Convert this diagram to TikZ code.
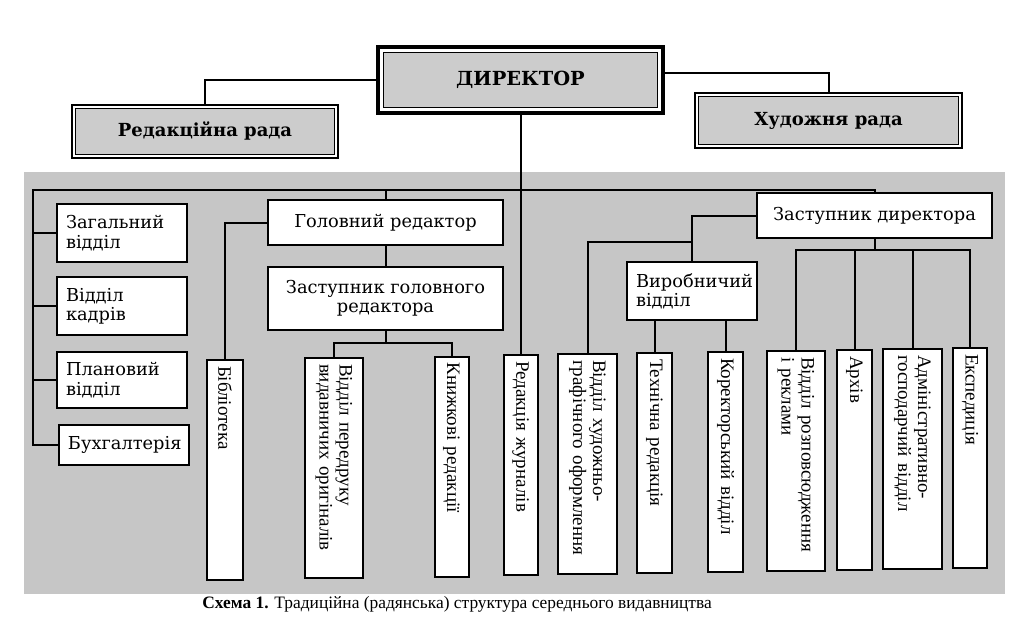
\documentclass[tikz,border=0pt]{standalone}
\usepackage{fontspec}
\setmainfont{DejaVu Serif}
\newfontfamily\vfont{Liberation Serif}

\begin{document}
\begin{tikzpicture}[x=0.5pt,y=-0.5pt,line width=1pt]
\tikzstyle{hblock}=[draw, fill=white, line width=1pt, align=center, font=\fontsize{8.9}{9.6}\selectfont]
\tikzstyle{lblock}=[hblock, align=left, text width=56pt, inner xsep=4.5pt, minimum width=65pt]
\tikzstyle{vblock}=[draw, fill=white, line width=1pt, rotate=-90, align=left, text width=104pt, inner xsep=3pt, font=\vfont\fontsize{9.5}{10}\selectfont]
\tikzstyle{council}=[draw, line width=.6pt, fill=white, font=\bfseries\fontsize{9}{10}\selectfont, path picture={\draw[line width=.5pt, fill=gray!40] ([shift={(1.8pt,-1.8pt)}]path picture bounding box.north west) rectangle ([shift={(-1.8pt,1.8pt)}]path picture bounding box.south east);}]
\tikzstyle{chief}=[draw, line width=1.6pt, fill=white, font=\bfseries\fontsize{9.7}{11}\selectfont, path picture={\draw[line width=.5pt, fill=gray!40] ([shift={(2.6pt,-2.6pt)}]path picture bounding box.north west) rectangle ([shift={(-2.6pt,2.6pt)}]path picture bounding box.south east);}]
\useasboundingbox (0,0) rectangle (1023,642);
\fill[gray!45] (24,172) rectangle (1005,594);
\draw (520.5,80) node (dir) [chief, minimum width=142.5pt, minimum height=33pt] {ДИРЕКТОР};
\draw (205,131.5) node (red) [council, minimum width=133pt, minimum height=26.5pt] {Редакційна рада};
\draw (828.5,120.5) node (hud) [council, minimum width=133.5pt, minimum height=27.5pt] {Художня рада};
\draw (122,233) node (zag) [lblock, minimum height=29pt] {Загальний\\відділ};
\draw (122,306) node (kadr) [lblock, minimum height=29pt] {Відділ\\кадрів};
\draw (122,380) node (plan) [lblock, minimum height=28pt] {Плановий\\відділ};
\draw (124,445) node (buh) [lblock, minimum height=20pt] {Бухгалтерія};
\draw (385.5,222.5) node (gr) [hblock, minimum width=117.5pt, minimum height=22.5pt] {Головний редактор};
\draw (385.5,298.5) node (zgr) [hblock, minimum width=117.5pt, minimum height=31.5pt] {Заступник головного\\редактора};
\draw (692,291) node (vyr) [lblock, minimum height=29pt] {Виробничий\\відділ};
\draw (874.5,215.5) node (dz) [hblock, minimum width=117.5pt, minimum height=22.5pt] {Заступник директора};
\draw (225,470) node (bib) [vblock, minimum height=18pt] {Бібліотека};
\draw (334,468) node (perd) [vblock, minimum height=29pt] {Відділ передруку\\видавничих оригіналів};
\draw (451.5,466.5) node (knyzh) [vblock, minimum height=17pt] {Книжкові редакції};
\draw (520.5,465) node (zhur) [vblock, minimum height=17pt] {Редакція журналів};
\draw (587.5,464) node (khud) [vblock, minimum height=29.5pt] {Відділ художньо-\\графічного оформлення};
\draw (654.5,463) node (tekh) [vblock, minimum height=17.5pt] {Технічна редакція};
\draw (725.5,462) node (kor) [vblock, minimum height=17.5pt] {Коректорський відділ};
\draw (796,461) node (rozp) [vblock, minimum height=29pt] {Відділ розповсюдження\\і реклами};
\draw (854.5,460) node (arkh) [vblock, minimum height=17.5pt] {Архів};
\draw (912.5,459) node (adm) [vblock, minimum height=29.5pt] {Адміністративно-\\господарчий відділ};
\draw (970,458) node (eksp) [vblock, minimum height=17pt] {Експедиція};
\draw (457,604) node (cap) [font=\vfont\fontsize{8.7}{11}\selectfont] {\textbf{Схема 1.} Традиційна (радянська) структура середнього видавництва};
\coordinate (busL) at (33,190);
\coordinate (j1) at (385.5,343);
\coordinate (j2) at (692,242);
\coordinate (j3) at (874.5,250);
\draw (dir.west) -| (red.north);
\draw ([yshift=3.5pt]dir.east) -| (hud.north);
\draw (dir.south) -- (zhur.west);
\draw (dz.north) |- (busL) |- (buh.west);
\draw (busL |- zag.west) -- (zag.west);
\draw (busL |- kadr.west) -- (kadr.west);
\draw (busL |- plan.west) -- (plan.west);
\draw (gr.north) -- (gr.north |- busL);
\draw (gr.west) -| (bib.west);
\draw (gr.south) -- (zgr.north);
\draw (zgr.south) -- (j1);
\draw (perd.west) |- (j1) -| (knyzh.west);
\draw (dz.west) -| (vyr.north);
\draw (j2) -| (khud.west);
\draw (vyr.south -| tekh.west) -- (tekh.west);
\draw (vyr.south -| kor.west) -- (kor.west);
\draw (dz.south) -- (j3);
\draw (rozp.west) |- (j3) -| (eksp.west);
\draw (arkh.west) -- (arkh.west |- j3);
\draw (adm.west) -- (adm.west |- j3);
\end{tikzpicture}
\end{document}
